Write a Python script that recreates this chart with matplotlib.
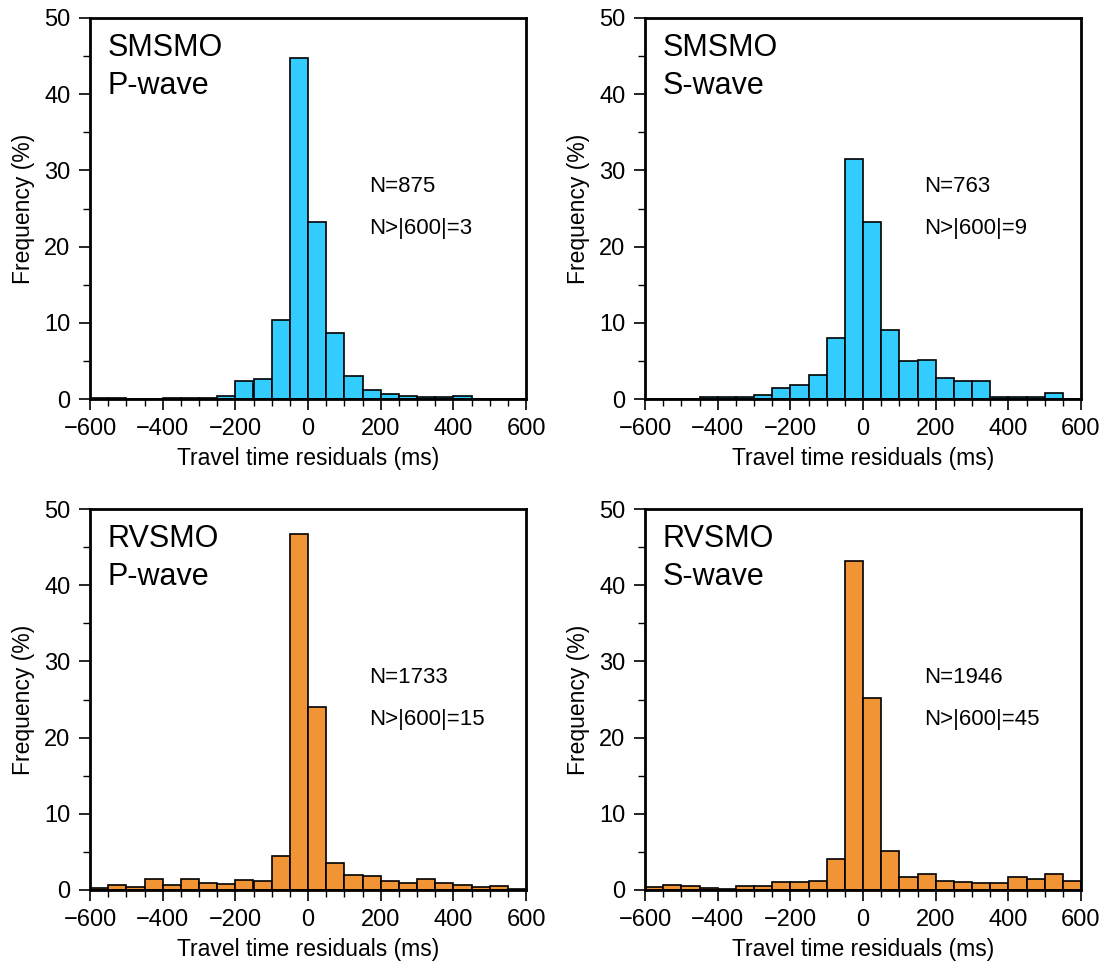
import numpy as np
import matplotlib
matplotlib.use("Agg")
import matplotlib.pyplot as plt
from matplotlib.ticker import MultipleLocator

plt.rcParams['font.family'] = ['Liberation Sans', 'DejaVu Sans']

bin_edges = list(range(-600, 601, 50))

smsmo_p = [0.15, 0.15, 0.0, 0.0, 0.1, 0.1, 0.1, 0.35, 2.4, 2.6, 10.4, 44.8,
           23.2, 8.6, 3.0, 1.2, 0.6, 0.35, 0.25, 0.25, 0.45, 0.0, 0.0, 0.0]
smsmo_s = [0.0, 0.0, 0.0, 0.2, 0.2, 0.3, 0.55, 1.4, 1.9, 3.2, 8.0, 31.5,
           23.2, 9.0, 5.0, 5.1, 2.8, 2.4, 2.4, 0.2, 0.2, 0.3, 0.75, 0.05]
rvsmo_p = [0.3, 0.66, 0.44, 1.4, 0.66, 1.45, 0.96, 0.83, 1.3, 1.2, 4.4, 46.7,
           24.0, 3.5, 2.0, 1.9, 1.2, 0.9, 1.5, 0.96, 0.66, 0.44, 0.53, 0.13]
rvsmo_s = [0.44, 0.6, 0.48, 0.3, 0.13, 0.57, 0.57, 1.0, 1.1, 1.15, 4.1, 43.2,
           25.2, 5.1, 1.67, 2.06, 1.23, 1.1, 0.88, 0.92, 1.67, 1.45, 2.15, 1.15]

panels = [
    ("SMSMO", "P-wave", smsmo_p, "N=875", "N>|600|=3", "#33CCFF"),
    ("SMSMO", "S-wave", smsmo_s, "N=763", "N>|600|=9", "#33CCFF"),
    ("RVSMO", "P-wave", rvsmo_p, "N=1733", "N>|600|=15", "#F09435"),
    ("RVSMO", "S-wave", rvsmo_s, "N=1946", "N>|600|=45", "#F09435"),
]

W, H = 1106, 967
fig = plt.figure(figsize=(W / 100, H / 100), dpi=100)
lefts = [90, 645, 90, 645]
tops = [18, 18, 509, 509]
aw, ah = 436, 381

edges = np.array(bin_edges)
ticks = [-600, -400, -200, 0, 200, 400, 600]
for (name, wave, vals, n1, n2, col), l, t in zip(panels, lefts, tops):
    ax = fig.add_axes([l / W, 1 - (t + ah) / H, aw / W, ah / H])
    ax.bar(edges[:-1], vals, width=np.diff(edges), align='edge',
           color=col, edgecolor='black', linewidth=1.2)
    ax.set_xlim(-600, 600)
    ax.set_ylim(0, 50)
    ax.set_xticks(ticks)
    ax.set_xticklabels([("\u2212%d" % -v) if v < 0 else "%d" % v for v in ticks])
    ax.xaxis.set_minor_locator(MultipleLocator(50))
    ax.yaxis.set_major_locator(MultipleLocator(10))
    ax.yaxis.set_minor_locator(MultipleLocator(5))
    ax.tick_params(which='major', direction='out', length=8, width=1.2,
                   labelsize=17, pad=6)
    ax.tick_params(which='minor', direction='out', length=5, width=1.0)
    for s in ax.spines.values():
        s.set_linewidth(2.0)
    ax.set_xlabel("Travel time residuals (ms)", fontsize=16.5, labelpad=5)
    ax.set_ylabel("Frequency (%)", fontsize=16.5, labelpad=7)
    ax.text(0.04, 0.96, name + "\n" + wave, transform=ax.transAxes,
            fontsize=22, va='top', ha='left', linespacing=1.35)
    ax.text(0.64, 0.559, n1, transform=ax.transAxes,
            fontsize=16, va='center', ha='left')
    ax.text(0.64, 0.447, n2, transform=ax.transAxes,
            fontsize=16, va='center', ha='left')

fig.savefig("out.png", dpi=100)
